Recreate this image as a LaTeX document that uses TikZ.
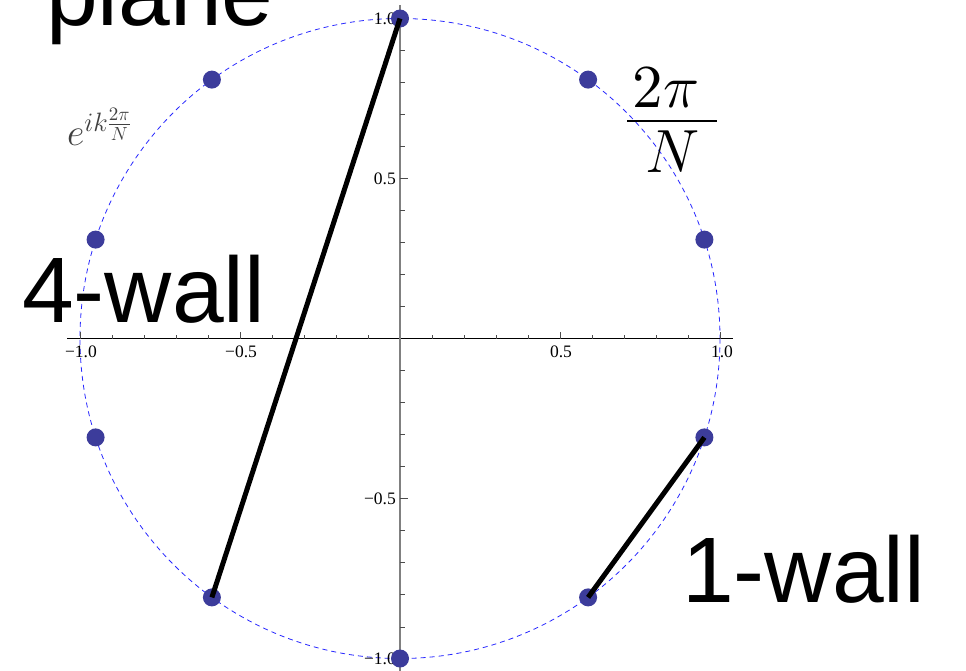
\RequirePackage{fix-cm}
\documentclass[tikz,border=0pt]{standalone}
\usepackage[no-math]{fontspec}
\setmainfont{Liberation Serif}
\newfontfamily\arialf{Liberation Sans}
\DeclareFontShape{OT1}{cmr}{m}{n}{<->cmr10}{}
\usetikzlibrary{calc}
\definecolor{dotc}{RGB}{60,60,155}
\definecolor{circc}{RGB}{40,40,255}
\begin{document}
\begin{tikzpicture}[x=1pt,y=-1pt,
  tick/.style={line width=0.9pt, black!70},
  lbl/.style={font=\fontsize{17.5}{17.5}\selectfont, inner sep=0pt},
  big/.style={font=\arialf\fontsize{93}{93}\selectfont, inner sep=0pt, anchor=base west},
  ptdot/.style={circle, fill=dotc, minimum size=18pt, inner sep=0pt},
  wall/.style={line width=5pt, black},
  fracfont/.style={font=\fontsize{61}{61}\selectfont, inner sep=0pt, anchor=base}]
\useasboundingbox (0,0) rectangle (966,670);
\clip (0,0) rectangle (966,670);
\fill[white] (0,0) rectangle (966,670);
\coordinate (C) at (400,338.5);
% unit circle
\draw[circc, dash pattern=on 5pt off 4pt, line width=0.8pt] (C) circle (320);
% axes
\draw[black, line width=1pt] (67,338.5) -- (733,338.5);
\draw[gray, line width=1.2pt] (400,5) -- (400,672);
% ticks
\foreach \i in {-9,-8,-7,-6,-4,-3,-2,-1,1,2,3,4,6,7,8,9} {
  \draw[tick] ({400+32*\i},338.5) -- ++(0,-4);
  \draw[tick] (400,{338.5-32.05*\i}) -- ++(4.5,0);
}
\foreach \i in {-10,-5,5,10} {
  \draw[tick] ({400+32*\i},338.5) -- ++(0,-7);
  \draw[tick] (400,{338.5-32.05*\i}) -- ++(8,0);
}
% tick labels
\node[lbl] (xa) at (81,352) {−1.0};
\node[lbl] (xb) at (241,352) {−0.5};
\node[lbl] (xc) at (561,352) {0.5};
\node[lbl] (xd) at (722,352) {1.0};
\node[lbl, anchor=east] (ya) at (396,18.5) {1.0};
\node[lbl, anchor=east] (yb) at (396,178.5) {0.5};
\node[lbl, anchor=east] (yc) at (396,498.8) {−0.5};
\node[lbl, anchor=east] (yd) at (396,659) {−1.0};
% roots of unity
\coordinate (q0) at (400,18.5);
\coordinate (q1) at (211.9,79.6);
\coordinate (q2) at (95.6,239.6);
\coordinate (q3) at (95.6,437.4);
\coordinate (q4) at (211.9,597.4);
\coordinate (q5) at (400,658.5);
\coordinate (q6) at (588.1,597.4);
\coordinate (q7) at (704.4,437.4);
\coordinate (q8) at (704.4,239.6);
\coordinate (q9) at (588.1,79.6);
\foreach \k in {0,...,9} { \node[ptdot] (p\k) at (q\k) {}; }
% walls
\draw[wall] (p0.center) -- (p4.center);
\draw[wall] (p7.center) -- (p6.center);
% texts
\node[big] (plane) at (46,25) {plane};
\node[big] (w4) at (22,322) {4-wall};
\node[big] (w1) at (682,602) {1-wall};
\node[fracfont] (num) at (666,107) {$2\pi$};
\node[fracfont] (den) at (673,172) {$N$};
\draw[line width=2.6pt] (627,121) -- (717,121);
\node[font=\fontsize{38}{38}\selectfont, anchor=base west, inner sep=0pt, text=black!75] (eik) at (67,145) {$e^{ik\frac{2\pi}{N}}$};
\end{tikzpicture}
\end{document}
